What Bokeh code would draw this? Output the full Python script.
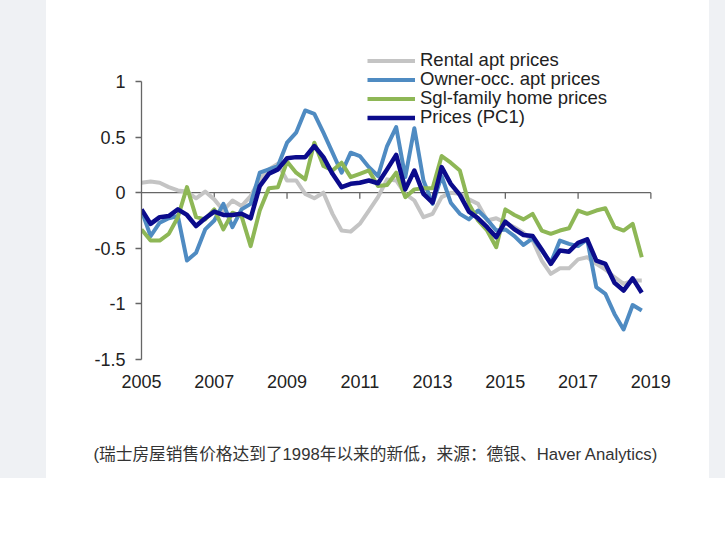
from bokeh.plotting import figure
from bokeh.models import (ColumnDataSource, LinearAxis, FixedTicker, Legend,
                          LegendItem, Spacer)
from bokeh.layouts import row
from bokeh.embed import file_html
from bokeh.resources import INLINE

# quarterly observations, 2005Q1 .. 2018Q4
quarters = [2005 + q / 4 for q in range(56)]

rental = [0.09, 0.10, 0.09, 0.05, 0.02, 0.01, -0.05, 0.01, -0.06, -0.16,
          -0.07, -0.12, -0.03, 0.12, 0.21, 0.26, 0.11, 0.11, -0.01, -0.05,
          0.00, -0.19, -0.34, -0.35, -0.28, -0.16, -0.04, 0.12, 0.11, -0.01,
          -0.07, -0.22, -0.19, -0.04, 0.00, -0.01, -0.06, -0.10, -0.25, -0.23,
          -0.27, -0.31, -0.36, -0.43, -0.61, -0.73, -0.68, -0.68, -0.60, -0.58,
          -0.64, -0.69, -0.76, -0.82, -0.79, -0.79]
owner = [-0.16, -0.39, -0.27, -0.23, -0.21, -0.61, -0.54, -0.33, -0.25, -0.10,
         -0.31, -0.15, -0.10, 0.18, 0.21, 0.24, 0.45, 0.54, 0.74, 0.71,
         0.54, 0.36, 0.18, 0.36, 0.33, 0.23, 0.15, 0.42, 0.59, 0.14,
         0.58, 0.11, -0.10, 0.15, -0.09, -0.19, -0.24, -0.16, -0.24, -0.34,
         -0.33, -0.39, -0.47, -0.41, -0.52, -0.63, -0.43, -0.46, -0.48, -0.42,
         -0.85, -0.91, -1.09, -1.23, -1.01, -1.06]
sgl = [-0.33, -0.43, -0.43, -0.37, -0.22, 0.05, -0.22, -0.24, -0.15, -0.33,
       -0.18, -0.21, -0.48, -0.16, 0.04, 0.05, 0.28, 0.18, 0.12, 0.45,
       0.24, 0.20, 0.27, 0.14, 0.17, 0.20, 0.06, 0.07, 0.18, -0.04,
       0.03, 0.04, 0.04, 0.33, 0.27, 0.20, -0.10, -0.25, -0.34, -0.49,
       -0.15, -0.20, -0.24, -0.19, -0.34, -0.37, -0.34, -0.32, -0.16, -0.19,
       -0.16, -0.14, -0.31, -0.34, -0.28, -0.58]
pc1 = [-0.15, -0.28, -0.22, -0.21, -0.15, -0.20, -0.30, -0.23, -0.17, -0.20,
       -0.20, -0.19, -0.23, 0.06, 0.17, 0.21, 0.31, 0.32, 0.32, 0.42,
       0.32, 0.17, 0.05, 0.08, 0.09, 0.11, 0.085, 0.21, 0.34, 0.03,
       0.20, -0.01, -0.09, 0.23, 0.08, -0.02, -0.17, -0.23, -0.31, -0.40,
       -0.26, -0.33, -0.38, -0.39, -0.51, -0.64, -0.52, -0.53, -0.45, -0.42,
       -0.61, -0.64, -0.81, -0.88, -0.77, -0.90]

series_names = ["Rental apt prices", "Owner-occ. apt prices",
                "Sgl-family home prices", "Prices (PC1)"]
series_colors = ["#c4c4c4", "#4f8bc2", "#8eb756", "#0b0b8c"]

y_ticks = [-1.5, -1, -0.5, 0, 0.5, 1]
y_tick_labels = ["-1.5", "-1", "-0.5", "0", "0.5", "1"]
year_ticks = [2005, 2007, 2009, 2011, 2013, 2015, 2017, 2019]

caption = "(瑞士房屋销售价格达到了1998年以来的新低，来源：德银、Haver Analytics)"
caption_x = 2011.44  # horizontal centre of the caption

W, H = 663, 478
LEFT, RIGHT, TOP, BOTTOM = 95, 55, 40, 119
Y0, Y1 = -1.5, 1.369
X0, X1 = 2005, 2019.1
FONT = "'Liberation Sans', Arial, sans-serif"

p = figure(width=W, height=H, x_range=(X0, X1), y_range=(Y0, Y1),
           x_axis_type=None, y_axis_type=None,
           output_backend="svg", toolbar_location=None,
           min_border_left=LEFT, min_border_right=RIGHT,
           min_border_top=TOP, min_border_bottom=BOTTOM)
p.outline_line_color = None
p.background_fill_color = "white"
p.border_fill_color = "white"

# y axis on the left, only between -1.5 and 1
yaxis = LinearAxis(ticker=FixedTicker(ticks=y_ticks), bounds=(-1.5, 1))
yaxis.major_label_overrides = {t: l for t, l in zip(y_ticks, y_tick_labels)}
yaxis.major_tick_out = 6
yaxis.major_tick_in = 0
yaxis.minor_tick_out = 0
yaxis.minor_tick_in = 0
yaxis.axis_line_color = "#666666"
yaxis.axis_line_width = 1.3
yaxis.major_tick_line_color = "#666666"
yaxis.major_tick_line_width = 1.3
yaxis.major_label_standoff = 10
yaxis.major_label_text_font = FONT
yaxis.major_label_text_font_size = "18px"
yaxis.major_label_text_color = "#222222"
p.add_layout(yaxis, "left")

# year labels at the bottom, no line
xaxis = LinearAxis(ticker=FixedTicker(ticks=year_ticks))
xaxis.axis_line_color = None
xaxis.major_tick_line_color = None
xaxis.minor_tick_line_color = None
xaxis.major_tick_out = 0
xaxis.major_tick_in = 0
xaxis.major_label_standoff = 15
xaxis.major_label_text_font = FONT
xaxis.major_label_text_font_size = "18px"
xaxis.major_label_text_color = "#222222"
p.add_layout(xaxis, "below")

# caption under the chart, carried by a bare second axis
cap_axis = LinearAxis(ticker=FixedTicker(ticks=[caption_x]))
cap_axis.major_label_overrides = {caption_x: caption}
cap_axis.axis_line_color = None
cap_axis.major_tick_line_color = None
cap_axis.minor_tick_line_color = None
cap_axis.major_tick_out = 0
cap_axis.major_tick_in = 0
cap_axis.major_label_standoff = 54
cap_axis.major_label_text_font = "'Liberation Sans', 'Noto Sans CJK SC', sans-serif"
cap_axis.major_label_text_font_size = "16.7px"
cap_axis.major_label_text_color = "#333333"
p.add_layout(cap_axis, "below")

# zero line with downward ticks
px_per_unit = (H - TOP - BOTTOM) / (Y1 - Y0)
tick_len = 6 / px_per_unit
p.segment(x0=[year_ticks[0]], y0=[0], x1=[year_ticks[-1]], y1=[0],
          line_color="#666666", line_width=1.3)
p.segment(x0=year_ticks[1:], y0=[0] * (len(year_ticks) - 1),
          x1=year_ticks[1:], y1=[-tick_len] * (len(year_ticks) - 1),
          line_color="#666666", line_width=1.3)

src = ColumnDataSource(data=dict(x=quarters, rental=rental, owner=owner,
                                 sgl=sgl, pc1=pc1))
renderers = []
for col, color, lw in zip(["rental", "owner", "sgl", "pc1"], series_colors,
                          [4, 4, 4, 4.5]):
    r = p.line("x", col, source=src, line_color=color, line_width=lw,
               line_join="round")
    renderers.append(r)

# one legend per row so the rows can sit 19px apart
ROW_GAP = 19
n = len(series_names)
for k, (name, r) in enumerate(zip(series_names, renderers)):
    lg = Legend(items=[LegendItem(label=name, renderers=[r])],
                location=(226, 231 + ROW_GAP * (n - 1 - k)))
    lg.glyph_width = 48
    lg.glyph_height = 19
    lg.label_height = 19
    lg.label_standoff = 5
    lg.padding = 0
    lg.margin = 0
    lg.border_line_color = None
    lg.background_fill_alpha = 0
    lg.label_text_font = FONT
    lg.label_text_font_size = "18.5px"
    lg.label_text_color = "#222222"
    p.add_layout(lg)

side = "#eff1f4"
layout = row(Spacer(width=46, height=H, styles={"background-color": side}),
             p,
             Spacer(width=16, height=H, styles={"background-color": side}))

open("out.html", "w").write(file_html(layout, INLINE))
